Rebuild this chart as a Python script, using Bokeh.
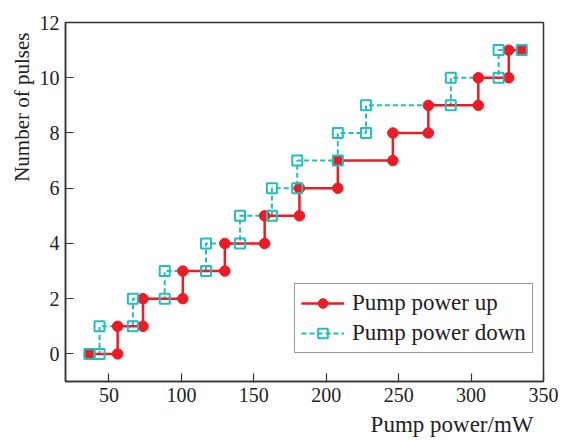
from bokeh.plotting import figure
from bokeh.models import FixedTicker, Legend, LegendItem, Title, Range1d
from bokeh.embed import file_html
from bokeh.resources import INLINE

# Data (step hysteresis curves)
up_x = [36.5, 56, 56, 73.5, 73.5, 101, 101, 130, 130, 157.5, 157.5, 181.5,
        181.5, 208, 208, 246, 246, 270.5, 270.5, 305, 305, 326, 326, 335]
up_y = [0, 0, 1, 1, 2, 2, 3, 3, 4, 4, 5, 5, 6, 6, 7, 7, 8, 8, 9, 9, 10, 10, 11, 11]
down_x = [36.5, 43.5, 43.5, 66.5, 66.5, 88.5, 88.5, 117, 117, 140.5, 140.5, 162.5,
          162.5, 180, 180, 208, 208, 227.5, 227.5, 286, 286, 319, 319, 335]
down_y = [0, 0, 1, 1, 2, 2, 3, 3, 4, 4, 5, 5, 6, 6, 7, 7, 8, 8, 9, 9, 10, 10, 11, 11]
x_ticks = [50, 100, 150, 200, 250, 300, 350]
y_ticks = [0, 2, 4, 6, 8, 10, 12]

RED = "#ED1C24"
CYAN = "#20BEBE"
FONT = "Liberation Serif"

p = figure(width=562, height=441, output_backend="svg", toolbar_location=None,
           x_range=Range1d(20, 350), y_range=Range1d(-1, 12),
           min_border_left=65, min_border_right=19, min_border_top=22,
           min_border_bottom=60)
p.grid.visible = False
p.outline_line_color = "#333333"
p.outline_line_width = 1.5
p.background_fill_color = "white"
p.border_fill_color = "white"

for ax in (p.xaxis[0], p.yaxis[0]):
    ax.major_tick_in = 8
    ax.major_tick_out = 0
    ax.minor_tick_in = 0
    ax.minor_tick_out = 0
    ax.axis_line_color = "#333333"
    ax.axis_line_width = 1.5
    ax.major_tick_line_color = "#333333"
    ax.major_tick_line_width = 1.2
    ax.major_label_text_font = FONT
    ax.major_label_text_font_size = "20px"
    ax.major_label_text_color = "#222222"
    ax.major_label_standoff = 6
p.xaxis[0].ticker = FixedTicker(ticks=x_ticks)
p.yaxis[0].ticker = FixedTicker(ticks=y_ticks)

l_down = p.line(down_x, down_y, line_color=CYAN, line_width=2, line_dash="5 3")
l_up = p.line(up_x, up_y, line_color=RED, line_width=2.5)
s_up = p.scatter(up_x, up_y, marker="circle", size=10.5, fill_color=RED, line_color=RED)
s_down = p.scatter(down_x, down_y, marker="square", size=10, fill_color=None,
                   line_color=CYAN, line_width=2)

legend = Legend(items=[
    LegendItem(label="Pump power up", renderers=[l_up, s_up]),
    LegendItem(label="Pump power down", renderers=[l_down, s_down]),
], location=(229, 28))
legend.label_text_font = FONT
legend.label_text_font_size = "23px"
legend.label_text_color = "#222222"
legend.glyph_width = 43
legend.glyph_height = 24
legend.label_height = 24
legend.label_standoff = 8
legend.spacing = 4
legend.padding = 6
legend.margin = 0
legend.border_line_color = "#333333"
legend.border_line_width = 1.2
legend.background_fill_alpha = 1
p.add_layout(legend, "center")

xt = Title(text="Pump power/mW", align="right", text_font=FONT,
           text_font_size="23px", text_font_style="normal", text_color="#222222",
           standoff=10, offset=10)
p.add_layout(xt, "below")
yt = Title(text="Number of pulses", align="right", text_font=FONT,
           text_font_size="21px", text_font_style="normal", text_color="#222222",
           standoff=5, offset=10)
p.add_layout(yt, "left")

open("out.html", "w").write(file_html(p, INLINE))
